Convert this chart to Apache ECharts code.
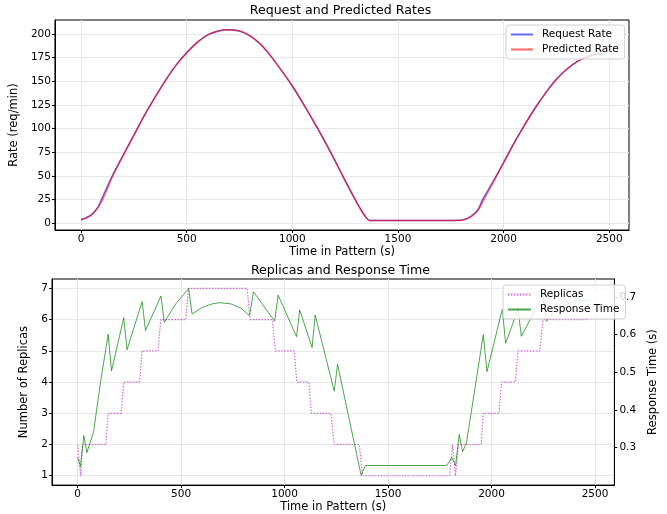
<!DOCTYPE html>
<html>
<head>
<meta charset="utf-8">
<script src="https://cdn.jsdelivr.net/npm/echarts@6/dist/echarts.min.js"></script>
<style>
  html, body { margin: 0; padding: 0; background: #fff; }
  #chart { width: 667px; height: 514px; }
</style>
</head>
<body>
<div id="chart"></div>
<script>
// --- data ---
var rateTime = [0, 25, 50, 80, 100, 150, 200, 250, 300, 350, 400, 450, 500, 550, 600, 650, 690, 750, 800, 850, 900, 950, 1000, 1050, 1100, 1150, 1200, 1250, 1300, 1340, 1365, 1400, 1500, 1600, 1700, 1800, 1850, 1880, 1900, 1950, 2000, 2050, 2100, 2150, 2200, 2250, 2300, 2350, 2400, 2450, 2470];
var requestRate = [4, 6, 9, 17, 27, 51, 72, 93, 114, 133, 151, 167, 180, 191, 199, 203, 204.5, 203, 198, 189, 176, 161, 145, 127, 108, 88, 67, 45, 24, 9, 3, 3, 3, 3, 3, 3.2, 8, 15, 25, 44, 64, 85, 104, 122, 138, 152, 163, 171, 176, 179, 179];
var predictedRate = [3.5, 5.5, 9, 16.5, 24, 50, 72, 93, 114, 133, 151, 167, 180, 191, 199, 203, 204.5, 203, 198, 189, 176, 161, 145, 127, 108, 88, 67, 45, 24, 9, 3, 3, 3, 3, 3, 3.2, 7.5, 14, 22, 43, 64, 85, 104, 122, 138, 152, 163, 171, 176, 179, 179];

var replicaTime = [0, 8, 15, 19, 24, 136, 148, 211, 223, 300, 311, 389, 402, 523, 536, 819, 834, 941, 955, 1047, 1059, 1117, 1130, 1224, 1240, 1361, 1377, 1797, 1812, 1818, 1826, 1832, 1840, 1950, 1960, 2036, 2049, 2115, 2128, 2233, 2249, 2470];
var replicas = [2, 2, 1, 1, 2, 2, 3, 3, 4, 4, 5, 5, 6, 6, 7, 7, 6, 6, 5, 5, 4, 4, 3, 3, 2, 2, 1, 1, 2, 2, 1, 1, 2, 2, 3, 3, 4, 4, 5, 5, 6, 6];

var respTime = [0, 14, 30, 45, 77, 112, 148, 164, 223, 239, 312, 328, 403, 419, 478, 537, 553, 600, 650, 690, 740, 790, 831, 850, 952, 969, 1058, 1073, 1133, 1148, 1240, 1256, 1370, 1390, 1784, 1808, 1826, 1844, 1860, 1879, 1960, 1978, 2052, 2068, 2128, 2144, 2249, 2265, 2300, 2350, 2400, 2431, 2470];
var respValue = [0.274, 0.250, 0.332, 0.287, 0.341, 0.478, 0.601, 0.504, 0.645, 0.560, 0.688, 0.611, 0.703, 0.633, 0.685, 0.7226, 0.655, 0.672, 0.682, 0.685, 0.682, 0.670, 0.651, 0.714, 0.636, 0.705, 0.595, 0.666, 0.566, 0.652, 0.450, 0.521, 0.2265, 0.2525, 0.2525, 0.274, 0.252, 0.335, 0.289, 0.313, 0.600, 0.502, 0.668, 0.577, 0.668, 0.596, 0.705, 0.636, 0.660, 0.678, 0.689, 0.692, 0.691];

var timeTicks = [0, 500, 1000, 1500, 2000, 2500];
var rateTicks = [0, 25, 50, 75, 100, 125, 150, 175, 200];
var replicaTicks = [1, 2, 3, 4, 5, 6, 7];
var respTicks = [0.3, 0.4, 0.5, 0.6, 0.7];

function zip(xs, ys) {
  return xs.map(function(x, i) { return [x, ys[i]]; });
}
function plain(v) { return String(Math.round(v * 10) / 10); }

var font = 'DejaVu Sans';
var gridLine = { show: true, lineStyle: { color: '#e8e8e8', width: 1 } };

function timeAxis(gi) {
  return {
    type: 'value', gridIndex: gi, min: -123.5, max: 2593.5,
    name: 'Time in Pattern (s)', nameLocation: 'middle', nameGap: 13,
    nameTextStyle: { color: '#000', fontSize: 11.5, fontFamily: font },
    axisLine: { show: true, onZero: false, lineStyle: { color: '#000', width: 1 } },
    axisTick: { show: true, length: 3, customValues: timeTicks, lineStyle: { color: '#000' } },
    axisLabel: { color: '#000', fontSize: 10.5, fontFamily: font, margin: 4, customValues: timeTicks, formatter: plain },
    splitLine: gridLine
  };
}

function valueAxis(gi, min, max, ticks, name, gap, pos, grid, margin) {
  return {
    type: 'value', gridIndex: gi, min: min, max: max, position: pos,
    name: name, nameLocation: 'middle', nameGap: gap, nameRotate: 90,
    nameTextStyle: { color: '#000', fontSize: 11.5, fontFamily: font },
    axisLine: { show: true, onZero: false, lineStyle: { color: '#000', width: 1 } },
    axisTick: { show: true, length: 3, customValues: ticks, lineStyle: { color: '#000' } },
    axisLabel: { color: '#000', fontSize: 10.5, fontFamily: font, margin: margin, customValues: ticks, formatter: plain },
    splitLine: grid ? gridLine : { show: false }
  };
}

var chart = echarts.init(document.getElementById('chart'));
chart.setOption({
  animation: false,
  textStyle: { fontFamily: font },
  graphic: [
    { type: 'text', x: 340.5, y: 11, style: { text: 'Request and Predicted Rates', font: '12.6px "DejaVu Sans"', fill: '#000', align: 'center', verticalAlign: 'middle' } },
    { type: 'text', x: 340.5, y: 271, style: { text: 'Replicas and Response Time', font: '12.6px "DejaVu Sans"', fill: '#000', align: 'center', verticalAlign: 'middle' } }
  ],
  grid: [
    { left: 52, top: 20, width: 577, height: 210, show: true, borderColor: '#000', borderWidth: 1, backgroundColor: 'transparent' },
    { left: 52, top: 279, width: 577, height: 211, show: true, borderColor: '#000', borderWidth: 1, backgroundColor: 'transparent' }
  ],
  xAxis: [timeAxis(0), timeAxis(1)],
  yAxis: [
    valueAxis(0, -7.1, 214.7, rateTicks, 'Rate (req/min)', 25, 'left', true, 4),
    valueAxis(1, 0.7, 7.3, replicaTicks, 'Number of Replicas', 10, 'left', true, 4),
    valueAxis(1, 0.2005, 0.748, respTicks, 'Response Time (s)', 22, 'right', false, 5)
  ],
  legend: [
    {
      orient: 'vertical', left: 506, top: 25, itemWidth: 22, itemHeight: 10, itemGap: 4,
      padding: [4, 6, 4, 4], backgroundColor: 'rgba(255,255,255,0.8)', borderColor: '#d0d0d0', borderWidth: 1, borderRadius: 3,
      textStyle: { color: '#000', fontSize: 10.5, fontFamily: font, padding: [0, 0, 0, 4] },
      itemStyle: { opacity: 0 },
      data: ['Request Rate', 'Predicted Rate']
    },
    {
      orient: 'vertical', left: 503, top: 285, itemWidth: 23, itemHeight: 10, itemGap: 4,
      padding: [4, 6, 4, 4], backgroundColor: 'rgba(255,255,255,0.8)', borderColor: '#d0d0d0', borderWidth: 1, borderRadius: 3,
      textStyle: { color: '#000', fontSize: 10.5, fontFamily: font, padding: [0, 0, 0, 4] },
      itemStyle: { opacity: 0 },
      data: ['Replicas', 'Response Time']
    }
  ],
  series: [
    {
      name: 'Request Rate', type: 'line', xAxisIndex: 0, yAxisIndex: 0, showSymbol: false, symbol: 'none',
      smooth: 0.25, data: zip(rateTime, requestRate),
      lineStyle: { color: 'rgba(0,0,255,0.6)', width: 1.5 }, itemStyle: { color: 'rgba(0,0,255,0.6)' }
    },
    {
      name: 'Predicted Rate', type: 'line', xAxisIndex: 0, yAxisIndex: 0, showSymbol: false, symbol: 'none',
      smooth: 0.25, data: zip(rateTime, predictedRate),
      lineStyle: { color: 'rgba(255,0,0,0.6)', width: 1.5 }, itemStyle: { color: 'rgba(255,0,0,0.6)' }
    },
    {
      name: 'Replicas', type: 'line', xAxisIndex: 1, yAxisIndex: 1, showSymbol: false, symbol: 'none',
      data: zip(replicaTime, replicas),
      lineStyle: { color: 'rgba(191,0,191,0.6)', width: 1.2, type: [1.5, 1.5] }, itemStyle: { color: 'rgba(191,0,191,0.6)' }
    },
    {
      name: 'Response Time', type: 'line', xAxisIndex: 1, yAxisIndex: 2, showSymbol: false, symbol: 'none',
      data: zip(respTime, respValue),
      lineStyle: { color: 'rgba(0,128,0,0.7)', width: 1 }, itemStyle: { color: 'rgba(0,128,0,0.7)' }
    }
  ]
});
</script>
</body>
</html>
